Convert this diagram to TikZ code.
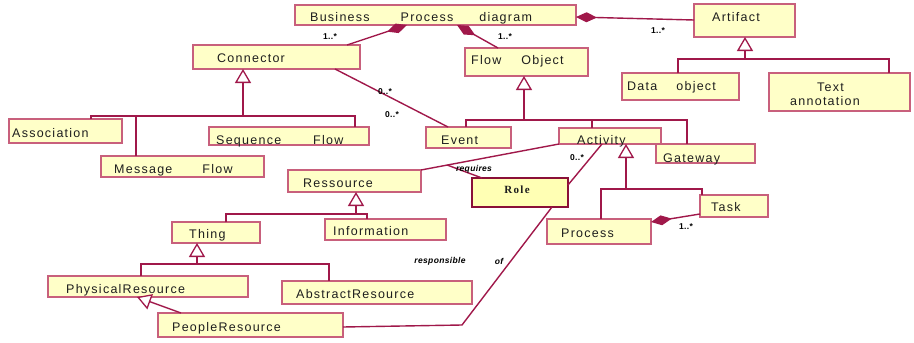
\documentclass[tikz,border=0pt]{standalone}
\usepackage{fontspec}
\usetikzlibrary{arrows.meta,calc}
\newfontfamily\umlfont[LetterSpace=10]{Liberation Sans}
\newfontfamily\smallfont[LetterSpace=4]{Liberation Sans}
\newfontfamily\rolefont[LetterSpace=12]{Liberation Serif}
\definecolor{umlfill}{HTML}{FFFFC8}
\definecolor{rolefill}{HTML}{FFFFB4}
\definecolor{umlred}{HTML}{A0184A}
\definecolor{umlpink}{HTML}{C8607C}
\definecolor{umldark}{HTML}{8A1038}
\definecolor{umltext}{HTML}{1E1E1E}
\tikzset{
  box/.style={fill=umlfill, draw=umlpink, line width=1.3pt, inner sep=0pt, outer sep=0pt, anchor=north west,
    append after command={\pgfextra{\draw[umldark, line width=1.3pt] (\tikzlastnode.north east) -- (\tikzlastnode.south east) -- (\tikzlastnode.south west);}}},
  rolebox/.style={fill=rolefill, draw=umldark, line width=1.9pt, inner sep=0pt, outer sep=0pt, anchor=north west},
  txt/.style={font=\umlfont\fontsize{12.5}{14}\selectfont, text=umltext, inner sep=0pt, anchor=base west},
  roletxt/.style={font=\rolefont\bfseries\fontsize{11}{13}\selectfont, text=umltext, inner sep=0pt, anchor=base},
  mult/.style={font=\smallfont\bfseries\fontsize{8.5}{9}\selectfont, text=black, inner sep=0pt},
  rolelbl/.style={font=\smallfont\bfseries\itshape\fontsize{8.5}{9}\selectfont, text=black, inner sep=0pt},
  lnk/.style={draw=umlred, line width=1.4pt},
  gen/.style={lnk, -{Triangle[open, fill=white, length=14pt, width=16pt, line width=1.3pt]}},
  comp/.style={lnk, {Diamond[length=21pt, width=10pt]}-},
}
\newcommand\ubox[6][box]{\node[#1, minimum width={#5-#3}, minimum height={#6-#4}] (#2) at (#3,#4) {};}
\begin{document}
\begin{tikzpicture}[x=1pt,y=-1pt]
\useasboundingbox (0,0) rectangle (914,343);
% boxes
\ubox{bp}{295}{5}{576}{25}
\ubox{art}{694}{4}{795}{37}
\ubox{dobj}{622}{73}{739}{100}
\ubox{tann}{769}{73}{910}{111}
\ubox{conn}{193}{45}{360}{69}
\ubox{assoc}{9}{119}{122}{143}
\ubox{msg}{101}{156}{264}{177}
\ubox{seq}{209}{127}{369}{145}
\ubox{fobj}{465}{48}{588}{76}
\ubox{event}{426}{127}{511}{148}
\ubox{act}{559}{128}{661}{144}
\ubox{gate}{656}{144}{755}{163}
\ubox[rolebox]{role}{472}{178}{568}{207}
\ubox{res}{288}{170}{421}{192}
\ubox{info}{325}{219}{446}{240}
\ubox{thing}{172}{222}{260}{243}
\ubox{phys}{48}{276}{248}{297}
\ubox{abst}{282}{281}{472}{304}
\ubox{ppl}{158}{313}{343}{337}
\ubox{proc}{547}{219}{651}{244}
\ubox{task}{700}{195}{768}{217}
% compositions
\coordinate (bpA) at (407,25); \coordinate (connT) at (347,45);
\draw[comp] (bpA) -- (connT);
\coordinate (bpB) at (457,25); \coordinate (fobjT) at (498,48);
\draw[comp] (bpB) -- (fobjT);
\coordinate (bpE) at (576,17); \coordinate (artW) at (694,20);
\draw[comp] (bpE) -- (artW);
\coordinate (procE) at (651,222); \coordinate (taskW) at (700,214);
\draw[comp] (procE) -- (taskW);
% associations
\coordinate (connB) at (335,69); \coordinate (eventT) at (448,127);
\draw[lnk] (connB) -- (eventT);
\draw[lnk] (res.north east) -- (act.south west);
\coordinate (reqA) at ($(res.north east)!0.19!(act.south west)$);
\coordinate (roleT) at (482,178);
\draw[lnk] (reqA) -- (roleT);
\coordinate (roleE) at (568,185); \coordinate (actB) at (602,144);
\draw[lnk] (roleE) -- (actB);
\coordinate (roleB) at (552,207); \coordinate (bend) at (462,325); \coordinate (pplE) at (343,327);
\draw[lnk] (roleB) -- (bend) -- (pplE);
% generalizations
\coordinate (artM) at (745,59); \coordinate (artL) at (678,59); \coordinate (artR) at (889,59);
\draw[gen] (artM) -- (artM |- art.south);
\draw[lnk] (artL |- dobj.north) -- (artL) -- (artR) -- (artR |- tann.north);
\coordinate (conM) at (243,116); \coordinate (conL) at (91,116); \coordinate (conX) at (136,116); \coordinate (conR) at (355,116);
\draw[gen] (conM) -- (conM |- conn.south);
\draw[lnk] (conL |- assoc.north) -- (conL) -- (conR) -- (conR |- seq.north);
\draw[lnk] (conX) -- (conX |- msg.north);
\coordinate (foM) at (524,120); \coordinate (foL) at (466,120); \coordinate (foX) at (592,120); \coordinate (foR) at (687,120);
\draw[gen] (foM) -- (foM |- fobj.south);
\draw[lnk] (foL |- event.north) -- (foL) -- (foR) -- (foR |- gate.north);
\draw[lnk] (foX) -- (foX |- act.north);
\coordinate (acM) at (626,189); \coordinate (acL) at (601,189); \coordinate (acR) at (702,189);
\draw[gen] (acM) -- (acM |- act.south);
\draw[lnk] (acL |- proc.north) -- (acL) -- (acR) -- (acR |- task.north);
\coordinate (reM) at (356,214); \coordinate (reL) at (226,214); \coordinate (reR) at (367,214);
\draw[gen] (reM) -- (reM |- res.south);
\draw[lnk] (reL |- thing.north) -- (reL) -- (reR) -- (reR |- info.north);
\coordinate (thM) at (197,264); \coordinate (thL) at (141,264); \coordinate (thR) at (329,264);
\draw[gen] (thM) -- (thM |- thing.south);
\draw[lnk] (thL |- phys.north) -- (thL) -- (thR) -- (thR |- abst.north);
\coordinate (pplT) at (181,313); \coordinate (physB) at (137,297);
\draw[gen] (pplT) -- (physB);
% texts
\node[txt] (t-bp) at (310,21.5) {Business\hspace{31pt}Process\hspace{26pt}diagram};
\node[txt] (t-art) at (712,21) {Artifact};
\node[txt] (t-dobj) at (627,90) {Data\hspace{19pt}object};
\node[txt] (t-tann1) at (817,91) {Text};
\node[txt] (t-tann2) at (790,105) {annotation};
\node[txt] (t-conn) at (217,62) {Connector};
\node[txt] (t-assoc) at (12,137) {Association};
\node[txt] (t-msg) at (114,173) {Message\hspace{30pt}Flow};
\node[txt] (t-seq) at (216,144) {Sequence\hspace{32pt}Flow};
\node[txt] (t-fobj) at (471,64) {Flow\hspace{20pt}Object};
\node[txt] (t-event) at (441,144) {Event};
\node[txt] (t-act) at (577,144) {Activity};
\node[txt] (t-gate) at (663,162) {Gateway};
\node[roletxt] (t-role) at (517,193) {Role};
\node[txt] (t-res) at (303,187) {Ressource};
\node[txt] (t-info) at (333,235) {Information};
\node[txt] (t-thing) at (189,238) {Thing};
\node[txt] (t-phys) at (66,293) {PhysicalResource};
\node[txt] (t-abst) at (296,298) {AbstractResource};
\node[txt] (t-ppl) at (172,331) {PeopleResource};
\node[txt] (t-proc) at (561,237) {Process};
\node[txt] (t-task) at (711,211) {Task};
% multiplicities and role names
\node[mult] (m1) at (330,37) {1..*};
\node[mult] (m2) at (505,37) {1..*};
\node[mult] (m3) at (658,31) {1..*};
\node[mult] (m4) at (385,92) {0..*};
\node[mult] (m5) at (392,115) {0..*};
\node[mult] (m6) at (577,158) {0..*};
\node[mult] (m7) at (686,227) {1..*};
\node[rolelbl] (l-req) at (474,169) {requires};
\node[rolelbl] (l-resp) at (440,261) {responsible};
\node[rolelbl] (l-of) at (499,261) {of};
\end{tikzpicture}
\end{document}
